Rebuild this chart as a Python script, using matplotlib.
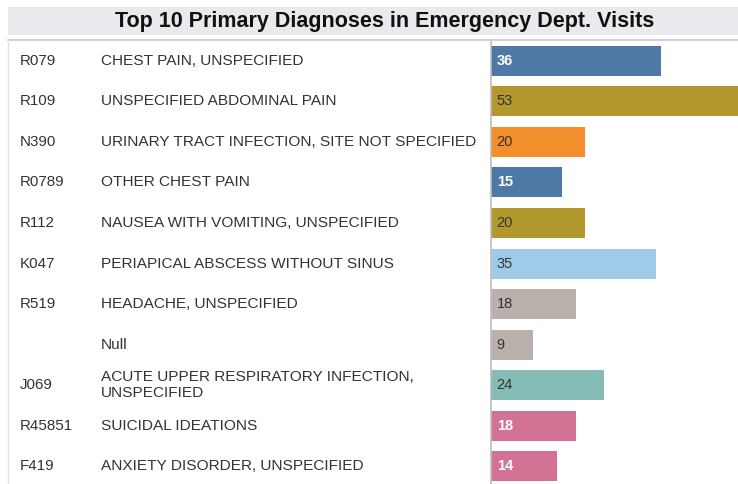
"""Top 10 primary diagnoses in emergency dept. visits (horizontal bar table)."""

import matplotlib.pyplot as plt
from matplotlib.patches import Rectangle
from matplotlib.lines import Line2D
from matplotlib.transforms import blended_transform_factory

plt.rcParams["font.family"] = ["Liberation Sans", "DejaVu Sans"]

codes = ["R079", "R109", "N390", "R0789", "R112", "K047", "R519", "", "J069", "R45851", "F419"]
descriptions = [
    "CHEST PAIN, UNSPECIFIED",
    "UNSPECIFIED ABDOMINAL PAIN",
    "URINARY TRACT INFECTION, SITE NOT SPECIFIED",
    "OTHER CHEST PAIN",
    "NAUSEA WITH VOMITING, UNSPECIFIED",
    "PERIAPICAL ABSCESS WITHOUT SINUS",
    "HEADACHE, UNSPECIFIED",
    "Null",
    "ACUTE UPPER RESPIRATORY INFECTION,\nUNSPECIFIED",
    "SUICIDAL IDEATIONS",
    "ANXIETY DISORDER, UNSPECIFIED",
]
visits = [36, 53, 20, 15, 20, 35, 18, 9, 24, 18, 14]
colors = ["#4e79a7", "#b3992d", "#f28e2b", "#4e79a7", "#b3992d", "#a0cbe8",
          "#bab0ac", "#bab0ac", "#86bcb6", "#d37295", "#d37295"]
white_label = [True, False, False, True, False, False, False, False, False, True, True]

W, H = 738, 484
fig = plt.figure(figsize=(W / 100, H / 100), dpi=100)

# title band
fig.patches.append(Rectangle((8 / W, 1 - 35 / H), 1 - 8 / W, 28 / H,
                             transform=fig.transFigure, facecolor="#e9eaee",
                             edgecolor="none", zorder=0))
fig.text(385 / W, 1 - 21.5 / H, "Top 10 Primary Diagnoses in Emergency Dept. Visits",
         ha="center", va="center", fontsize=15.5, fontweight="bold", color="#111111")
fig.lines.append(Line2D([8 / W, 1], [1 - 40 / H, 1 - 40 / H], transform=fig.transFigure,
                        color="#c8c8c8", linewidth=1.2))
fig.lines.append(Line2D([8 / W, 8 / W], [0, 1 - 40 / H], transform=fig.transFigure,
                        color="#e4e4e4", linewidth=1))

ax = fig.add_axes([491 / W, 0, 1 - 491 / W, 1 - 41 / H])
y = list(range(len(visits)))
ax.barh(y, visits, height=0.74, color=colors, edgecolor="none")
ax.set_xlim(0, 52.4)
ax.set_ylim(10.44, -0.49)
ax.set_xticks([])
ax.set_yticks([])
for side in ["top", "right", "bottom"]:
    ax.spines[side].set_visible(False)
ax.spines["left"].set_color("#bdbdbd")
ax.spines["left"].set_linewidth(1.2)

for i, v in enumerate(visits):
    white = white_label[i]
    ax.text(1.2, i, str(v), va="center", ha="left", fontsize=10.5,
            color="white" if white else "#333333",
            fontweight="bold" if white else "normal")

trans = blended_transform_factory(fig.transFigure, ax.transData)
for i, (c, d) in enumerate(zip(codes, descriptions)):
    ax.text(20 / W, i, c, transform=trans, va="center", ha="left",
            fontsize=10.9, color="#333333", clip_on=False)
    ax.text(101 / W, i, d, transform=trans, va="center", ha="left",
            fontsize=11.1, color="#333333", clip_on=False, linespacing=1.15)

fig.savefig("out.png", dpi=100)
